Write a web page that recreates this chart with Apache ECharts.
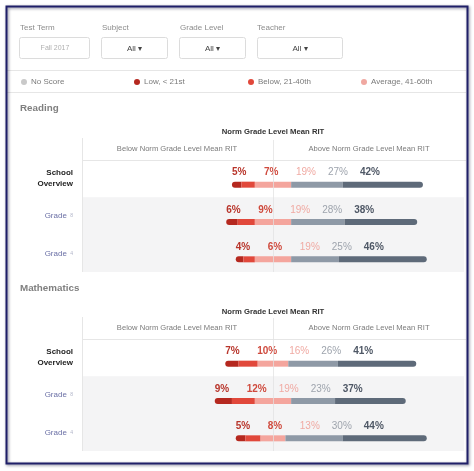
<!DOCTYPE html>
<html>
<head>
<meta charset="utf-8">
<script src="https://cdn.jsdelivr.net/npm/echarts@6/dist/echarts.min.js"></script>
<style>
html,body{margin:0;padding:0;background:#fff;}
#c{width:474px;height:471px;}
</style>
</head>
<body>
<div id="c"></div>
<script>
// ---- data ----
const categories = ['School Overview', 'Grade 8', 'Grade 4'];
const bandNames = ['Low, < 21st', 'Below, 21-40th', 'Average, 41-60th', 'High Average, 61-80th', 'High, > 80th'];
const legendNames = ['No Score', 'Low, < 21st', 'Below, 21-40th', 'Average, 41-60th'];

const readingLow   = [5, 6, 4];
const readingBelow = [7, 9, 6];
const readingAvg   = [19, 19, 19];
const readingHiAvg = [27, 28, 25];
const readingHigh  = [42, 38, 46];

const mathLow   = [7, 9, 5];
const mathBelow = [10, 12, 8];
const mathAvg   = [16, 19, 13];
const mathHiAvg = [26, 23, 30];
const mathHigh  = [41, 37, 44];

const xTicks = [-100, 0, 100];

// ---- styles ----
const FONT = '"Liberation Sans", Arial, Helvetica, sans-serif';
const barColors = ['#b5281f', '#e1483b', '#f4a59d', '#8e99a6', '#5e6a79'];
const labelColors = ['#b8352b', '#cf4a3d', '#f0aaa3', '#9ea4ad', '#4f5866'];
const labelBold = [true, true, false, false, true];
const legendColors = ['#c9c9c9', '#b5281f', '#e1483b', '#f0a8a1'];

function rows(a, b, c, d, e) {
  return a.map((v, i) => [i, a[i], b[i], c[i], d[i], e[i]]);
}
const readingData = rows(readingLow, readingBelow, readingAvg, readingHiAvg, readingHigh);
const mathData = rows(mathLow, mathBelow, mathAvg, mathHiAvg, mathHigh);

function renderRow(params, api) {
  const row = api.value(0);
  const vals = [api.value(1), api.value(2), api.value(3), api.value(4), api.value(5)];
  const start = -(vals[0] + vals[1] + vals[2] / 2);
  const cy = api.coord([0, row])[1];
  const children = [];
  let acc = start;
  const startPx = api.coord([start, row])[0];
  for (let i = 0; i < 5; i++) {
    const x0 = api.coord([acc, row])[0];
    acc += vals[i];
    const x1 = api.coord([acc, row])[0];
    children.push({
      type: 'rect',
      shape: { x: x0, y: cy + 3, width: x1 - x0, height: 6, r: i === 0 ? [3, 0, 0, 3] : (i === 4 ? [0, 3, 3, 0] : 0) },
      style: { fill: barColors[i] }
    });
  }
  for (let i = 0; i < 5; i++) {
    children.push({
      type: 'text',
      x: startPx + i * 32,
      y: cy - 6,
      style: {
        text: vals[i] + '%',
        fill: labelColors[i],
        font: (labelBold[i] ? 'bold ' : '') + '10px ' + FONT,
        textAlign: 'left',
        textVerticalAlign: 'middle'
      }
    });
  }
  return { type: 'group', children: children };
}

function yLabel(v) {
  if (v === 'School Overview') return '{b|School}\n{b|Overview}';
  const parts = v.split(' ');
  return '{g|' + parts[0] + '} {s|' + parts[1] + '}';
}

function makeY(gi) {
  return {
    type: 'category', gridIndex: gi, data: categories, inverse: true,
    axisLine: { show: false }, axisTick: { show: false },
    axisLabel: {
      margin: 9, formatter: yLabel,
      rich: {
        b: { fontFamily: FONT, fontSize: 8, fontWeight: 'bold', color: '#222', lineHeight: 11, align: 'right' },
        g: { fontFamily: FONT, fontSize: 8, color: '#6b70a6' },
        s: { fontFamily: FONT, fontSize: 5, color: '#b0b4c8' }
      }
    },
    splitLine: { show: false },
    splitArea: { show: true, areaStyle: { color: ['rgba(255,255,255,0)', '#f4f4f5', '#f4f4f5'] } }
  };
}
function makeX(gi) {
  return { type: 'value', gridIndex: gi, min: xTicks[0], max: xTicks[2], interval: 100, show: false, splitLine: { show: false } };
}

const L = '#e6e6e6';
function line(x1, y1, x2, y2, color, z) {
  return { type: 'line', shape: { x1, y1, x2, y2 }, style: { stroke: color || L, lineWidth: 1 }, z: z || 1, silent: true };
}
function txt(x, y, text, size, color, opts) {
  opts = opts || {};
  return { type: 'text', x, y, z: 5, style: { text, fill: color, font: (opts.bold ? 'bold ' : '') + size + 'px ' + FONT, textAlign: opts.align || 'left', textVerticalAlign: 'middle' } };
}
function box(x, y, w, h) {
  return { type: 'rect', shape: { x, y, width: w, height: h, r: 2 }, style: { fill: '#fff', stroke: '#dcdcdc', lineWidth: 1 }, z: 2 };
}

const graphics = [
  // frame
  { type: 'rect', shape: { x: 6.5, y: 6.5, width: 461, height: 457 }, style: { fill: 'rgba(0,0,0,0)', stroke: '#1f1f68', lineWidth: 2, shadowBlur: 3, shadowOffsetX: 1, shadowOffsetY: 1, shadowColor: 'rgba(0,0,40,0.5)' }, z: 20 },
  // filters
  txt(20, 28, 'Test Term', 8, '#8c8c8c'),
  txt(102, 28, 'Subject', 8, '#8c8c8c'),
  txt(180, 28, 'Grade Level', 8, '#8c8c8c'),
  txt(257, 28, 'Teacher', 8, '#8c8c8c'),
  box(19.5, 37.5, 70, 21), box(101.5, 37.5, 66, 21), box(179.5, 37.5, 66, 21), box(257.5, 37.5, 85, 21),
  txt(55, 48.5, 'Fall 2017', 7, '#b0b0b0', { align: 'center' }),
  txt(134.5, 48.5, 'All ▾', 8, '#444', { align: 'center' }),
  txt(212.5, 48.5, 'All ▾', 8, '#444', { align: 'center' }),
  txt(300, 48.5, 'All ▾', 8, '#444', { align: 'center' }),
  line(7, 70.5, 466, 70.5),
  line(7, 92.5, 466, 92.5),
  // section titles
  txt(20, 108.5, 'Reading', 9.8, '#7f7f7f', { bold: true }),
  txt(20, 288, 'Mathematics', 9.8, '#7f7f7f', { bold: true }),
  // reading table header
  txt(273, 132, 'Norm Grade Level Mean RIT', 7.7, '#333', { bold: true, align: 'center' }),
  txt(177, 149, 'Below Norm Grade Level Mean RIT', 7.6, '#7a7a7a', { align: 'center' }),
  txt(369, 149, 'Above Norm Grade Level Mean RIT', 7.6, '#7a7a7a', { align: 'center' }),
  line(82.5, 138, 82.5, 272),
  line(82, 160.5, 466, 160.5),
  line(273.5, 140, 273.5, 272, 'rgba(225,225,225,0.75)', 30),
  // math table header
  txt(273, 311.5, 'Norm Grade Level Mean RIT', 7.7, '#333', { bold: true, align: 'center' }),
  txt(177, 327.5, 'Below Norm Grade Level Mean RIT', 7.6, '#7a7a7a', { align: 'center' }),
  txt(369, 327.5, 'Above Norm Grade Level Mean RIT', 7.6, '#7a7a7a', { align: 'center' }),
  line(82.5, 317, 82.5, 451),
  line(82, 339.5, 466, 339.5),
  line(273.5, 318, 273.5, 451, 'rgba(225,225,225,0.75)', 30)
];
// legend
const legendX = [24, 137, 251, 364];
legendNames.forEach((n, i) => {
  graphics.push({ type: 'circle', shape: { cx: legendX[i], cy: 82, r: 3 }, style: { fill: legendColors[i] }, z: 5 });
  graphics.push(txt(legendX[i] + 7, 82, n, 8, '#7a7a7a'));
});

const chart = echarts.init(document.getElementById('c'), null, { renderer: 'canvas' });
chart.setOption({
  animation: false,
  backgroundColor: '#fff',
  grid: [
    { left: 82, width: 382, top: 160, height: 112 },
    { left: 82, width: 382, top: 339, height: 112 }
  ],
  xAxis: [makeX(0), makeX(1)],
  yAxis: [makeY(0), makeY(1)],
  series: [
    { name: 'Reading', type: 'custom', xAxisIndex: 0, yAxisIndex: 0, renderItem: renderRow, data: readingData, encode: { x: 1, y: 0 }, clip: false, z: 10 },
    { name: 'Mathematics', type: 'custom', xAxisIndex: 1, yAxisIndex: 1, renderItem: renderRow, data: mathData, encode: { x: 1, y: 0 }, clip: false, z: 10 }
  ],
  graphic: graphics
});
</script>
</body>
</html>
